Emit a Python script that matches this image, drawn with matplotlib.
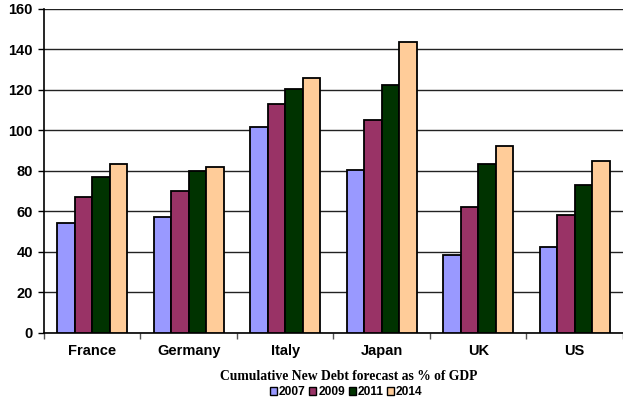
import numpy as np
import matplotlib.pyplot as plt
from matplotlib.patches import Patch

countries = ['France', 'Germany', 'Italy', 'Japan', 'UK', 'US']
years = ['2007', '2009', '2011', '2014']
debt_2007 = [54.2, 57.1, 101.5, 80.5, 38.5, 42.6]
debt_2009 = [67.3, 70.3, 112.9, 105.0, 62.2, 58.4]
debt_2011 = [77.2, 80.0, 120.6, 122.5, 83.2, 72.8]
debt_2014 = [83.4, 81.9, 125.7, 143.6, 92.1, 85.0]
colors = ['#9999FF', '#993366', '#003300', '#FFCC99']

plt.rcParams['font.family'] = ['Liberation Sans', 'DejaVu Sans']

fig = plt.figure(figsize=(6.23, 4.01), dpi=100)
ax = fig.add_axes([0.0706, 0.170, 0.9294, 0.8076])

x = np.arange(len(countries))
w = 0.182
series = [debt_2007, debt_2009, debt_2011, debt_2014]
for i, (vals, c) in enumerate(zip(series, colors)):
    ax.bar(x + (i - 1.5) * w, vals, width=w, color=c, edgecolor='black',
           linewidth=1.3, zorder=3)

ax.set_ylim(0, 160)
ax.set_xlim(-0.5, 5.47)
ax.set_yticks(np.arange(0, 161, 20))
ax.set_yticklabels([str(v) for v in range(0, 161, 20)], fontsize=10.5, fontweight='bold')
ax.yaxis.grid(True, color='#222222', linewidth=1.0, zorder=0)

# category labels in the middle, tick marks on the group boundaries
ax.set_xticks(x)
ax.set_xticklabels(countries, fontsize=10.5, fontweight='bold')
ax.tick_params(axis='x', length=0, pad=8)
ax.set_xticks(np.arange(-0.5, 6, 1), minor=True)
ax.tick_params(axis='x', which='minor', length=4, width=1, color='#555555')
ax.tick_params(axis='y', length=4, width=1, pad=4)

for s in ['top', 'right']:
    ax.spines[s].set_visible(False)
ax.spines['left'].set_linewidth(1.2)
ax.spines['bottom'].set_linewidth(1.2)

fig.text(0.56, 0.06, 'Cumulative New Debt forecast as % of GDP',
         ha='center', va='center', family='Liberation Serif',
         fontweight='bold', fontsize=9.8)

handles = [Patch(facecolor=c, edgecolor='black', linewidth=1) for c in colors]
fig.legend(handles, years, loc='center', bbox_to_anchor=(0.556, 0.022),
           ncol=4, frameon=False, handlelength=0.6, handleheight=0.6,
           handletextpad=0.15, columnspacing=0.3,
           prop={'weight': 'bold', 'size': 8.6})

fig.savefig('out.png', dpi=100)
